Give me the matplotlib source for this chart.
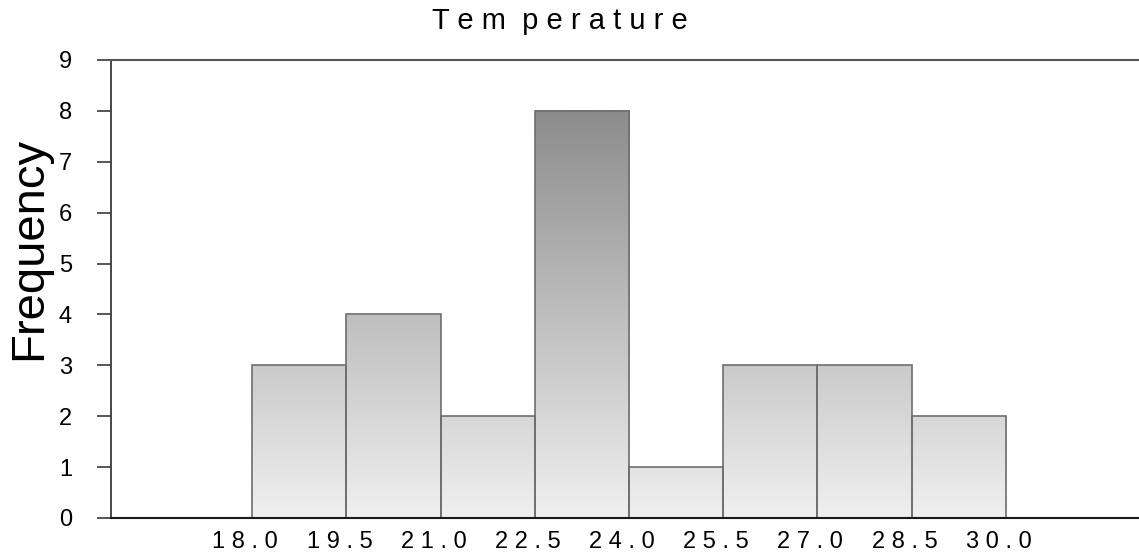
import numpy as np
import matplotlib
matplotlib.use("Agg")
import matplotlib.pyplot as plt
from matplotlib.colors import LinearSegmentedColormap, Normalize
from matplotlib.patches import Rectangle
from matplotlib.transforms import ScaledTranslation

# Histogram bins (edges) and counts
bin_edges = [16.5, 18.0, 19.5, 21.0, 22.5, 24.0, 25.5, 27.0, 28.5, 30.0, 31.5]
counts = [0, 3, 4, 2, 8, 1, 3, 3, 2, 0]
tick_values = [18.0, 19.5, 21.0, 22.5, 24.0, 25.5, 27.0, 28.5, 30.0]
y_ticks = [0, 1, 2, 3, 4, 5, 6, 7, 8, 9]

title_text = "T e m  p e r a t u r e"
ylabel_text = "Frequency"

narrow = ["Liberation Sans Narrow", "Liberation Sans", "DejaVu Sans"]
plain = ["Liberation Sans", "DejaVu Sans"]

W, H = 1139, 558
fig = plt.figure(figsize=(W / 100, H / 100), dpi=100)
fig.patch.set_facecolor("white")

left, right, top, bottom = 111, 1147, 60, 518
ax = fig.add_axes([left / W, (H - bottom) / H, (right - left) / W, (bottom - top) / H])

# Vertical grey gradient shared by all bars: light at 0, dark at the tallest count
cmap = LinearSegmentedColormap.from_list("shade", ["#f0f0f0", "#8c8c8c"])
norm = Normalize(vmin=0, vmax=max(counts))

for x0, x1, c in zip(bin_edges[:-1], bin_edges[1:], counts):
    if c > 0:
        grad = np.linspace(0, c, 256).reshape(-1, 1)
        ax.imshow(grad, extent=[x0, x1, 0, c], origin="lower", aspect="auto",
                  cmap=cmap, norm=norm, interpolation="bilinear", zorder=1)
    ax.add_patch(Rectangle((x0, 0), x1 - x0, c, facecolor="none",
                           edgecolor="#6e6e6e", linewidth=1.2, zorder=2))

ax.set_xlim(15.75, 32.25)
ax.set_ylim(0, 9)

ax.spines["right"].set_visible(False)
ax.spines["left"].set_color("#3a3a3a")
ax.spines["left"].set_linewidth(1.3)
ax.spines["top"].set_color("#555555")
ax.spines["top"].set_linewidth(1.5)
ax.spines["bottom"].set_color("#1a1a1a")
ax.spines["bottom"].set_linewidth(1.5)
ax.spines["bottom"].set_zorder(3)

ax.set_yticks(y_ticks)
ax.set_yticklabels([str(v) for v in y_ticks], fontfamily=narrow, fontsize=17)
ax.tick_params(axis="y", direction="out", length=10, width=1.2, color="#3a3a3a", pad=18)

ax.set_xticks(tick_values)
ax.set_xticklabels([" ".join(f"{v:.1f}") for v in tick_values], fontfamily=narrow, fontsize=17)
ax.tick_params(axis="x", length=0, pad=9)
shift = ScaledTranslation(-7 / 100, 0, fig.dpi_scale_trans)
for lab in ax.get_xticklabels():
    lab.set_transform(lab.get_transform() + shift)

fig.text(560 / W, 1 - 21 / H, title_text, ha="center", va="center",
         fontfamily=narrow, fontsize=21)
fig.text(29 / W, 1 - 248 / H, ylabel_text, ha="center", va="center", rotation=90,
         fontfamily=plain, fontsize=34)

fig.savefig("out.png", dpi=100, facecolor="white")
